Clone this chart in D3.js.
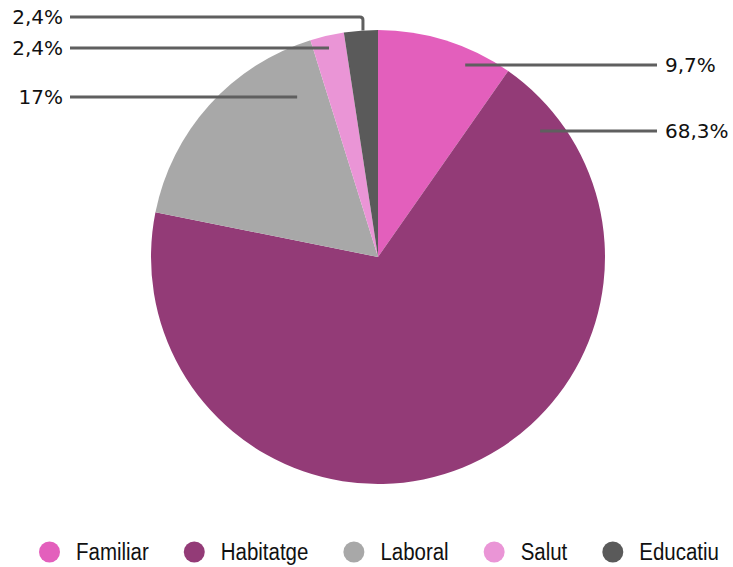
<!DOCTYPE html>
<html><head><meta charset="utf-8">
<script src="https://cdn.jsdelivr.net/npm/d3@7"></script>
<style>body{margin:0;background:#fff}svg{display:block}</style>
</head><body>
<svg id="c" width="733" height="567"></svg>
<script>
const categories = ["Familiar","Habitatge","Laboral","Salut","Educatiu"];
const values = [9.7, 68.3, 17, 2.4, 2.4];
const labels = ["9,7%","68,3%","17%","2,4%","2,4%"];
const colors = ["#e35fbc","#933b77","#a8a8a8","#ea95d6","#5a5a5a"];
// label anchor placement (angle in degrees within slice, radius fraction), side, label y
const anchorAngle = [24.4, 52.1, 333.2, 346.8, 356.2];
const anchorRad = [0.93, 0.905, 0.79, 0.945, 1.0];
const labelY = [65, 131, 97, 48, 17];
const labelSide = ["right","right","left","left","left-elbow"];

const svg = d3.select("#c");
const cx = 378, cy = 257, R = 227;
const g = svg.append("g").attr("transform", `translate(${cx},${cy})`);
const pie = d3.pie().sort(null).value(d => d)(values);
const arc = d3.arc().innerRadius(0).outerRadius(R);
g.selectAll("path").data(pie).join("path")
  .attr("d", arc).attr("fill", (d,i) => colors[i]);

const lineColor = "#5f5f5f";
const font = "'DejaVu Sans', Verdana, sans-serif";
values.forEach((v,i) => {
  const a = anchorAngle[i] * Math.PI/180;
  const r = anchorRad[i]*R;
  const ax = cx + r*Math.sin(a), ay = cy - r*Math.cos(a);
  const y = labelY[i];
  let pathD, tx, anchor;
  if (labelSide[i] === "right") {
    pathD = `M${ax},${y}L657,${y}`; tx = 665; anchor = "start";
  } else if (labelSide[i] === "left") {
    pathD = `M${ax},${y}L70,${y}`; tx = 63; anchor = "end";
  } else {
    pathD = `M70,${y}L${ax-3},${y}Q${ax},${y} ${ax},${y+3}L${ax},${ay}`; tx = 63; anchor = "end";
  }
  svg.append("path").attr("d", pathD).attr("fill","none")
    .attr("stroke", lineColor).attr("stroke-width", 3);
  svg.append("text").attr("x", tx).attr("y", y).attr("dy","0.36em")
    .attr("text-anchor", anchor).attr("font-family", font).attr("font-size", 20)
    .attr("fill", "#111").text(labels[i]);
});

// legend
const leg = svg.append("g");
let x = 39;
const sx = 0.89;
categories.forEach((c,i) => {
  leg.append("circle").attr("cx", x+10.5).attr("cy", 552).attr("r", 10.5).attr("fill", colors[i]);
  const t = leg.append("text").attr("transform", `translate(${x+37},560) scale(${sx},1)`)
    .attr("font-family","'Liberation Sans',Arial,sans-serif")
    .attr("font-size", 23).attr("fill","#111").text(c);
  x = x + 37 + t.node().getComputedTextLength()*sx + 35;
});
</script>
</body></html>
